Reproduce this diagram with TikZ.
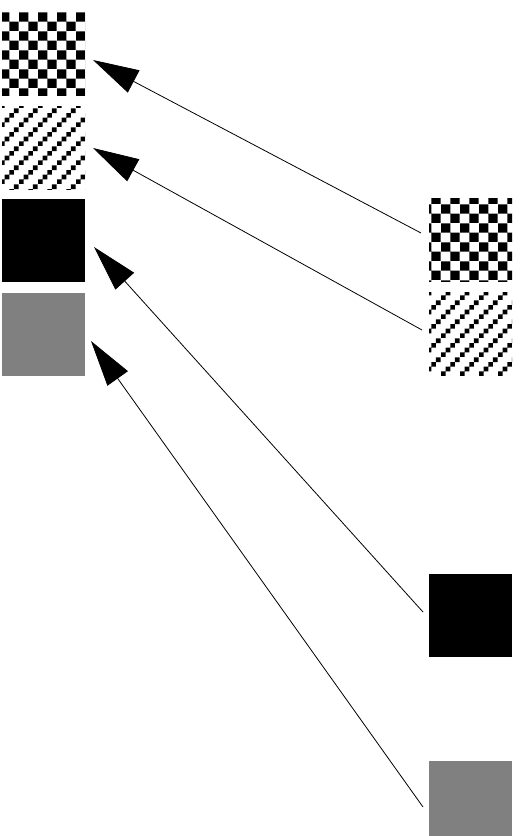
\documentclass[tikz,border=0pt]{standalone}
\usetikzlibrary{positioning,calc,arrows.meta,patterns.meta}

\pgfdeclarepattern{
  name=chkboard,
  type=uncolored,
  bottom left={\pgfpointorigin},
  top right={\pgfpoint{19.2pt}{19.2pt}},
  tile size={\pgfpoint{19.2pt}{19.2pt}},
  code={
    \pgfpathrectangle{\pgfpoint{0pt}{9.6pt}}{\pgfpoint{9.6pt}{9.6pt}}
    \pgfpathrectangle{\pgfpoint{9.6pt}{0pt}}{\pgfpoint{9.6pt}{9.6pt}}
    \pgfusepath{fill}
  }
}
\pgfdeclarepattern{
  name=stairs,
  type=uncolored,
  bottom left={\pgfpointorigin},
  top right={\pgfpoint{19.2pt}{19.2pt}},
  tile size={\pgfpoint{19.2pt}{19.2pt}},
  code={
    \pgfpathrectangle{\pgfpoint{0pt}{0pt}}{\pgfpoint{4.8pt}{4.8pt}}
    \pgfpathrectangle{\pgfpoint{4.8pt}{4.8pt}}{\pgfpoint{4.8pt}{4.8pt}}
    \pgfpathrectangle{\pgfpoint{9.6pt}{9.6pt}}{\pgfpoint{4.8pt}{4.8pt}}
    \pgfpathrectangle{\pgfpoint{14.4pt}{14.4pt}}{\pgfpoint{4.8pt}{4.8pt}}
    \pgfusepath{fill}
  }
}

\begin{document}
\begin{tikzpicture}[
      x=1pt,y=-1pt,
      sq/.style={inner sep=0pt,outer sep=0pt,minimum size=83pt},
      chk/.style={sq,pattern=chkboard},
      stair/.style={sq,pattern=stairs},
      conn/.style={draw,line width=0.8pt},
      >={Triangle[length=46pt,width=25pt]},
    ]
    \useasboundingbox (0,0) rectangle (520,836);
    \clip (0,0) rectangle (520,836);

    \node[chk] (lchk) at (43.5,53.5) {};
    \node[stair, below=11pt of lchk] (lstair) {};
    \node[sq,fill=black, below=10pt of lstair] (lblk) {};
    \node[sq,fill=gray, below=11pt of lblk] (lgry) {};

    \node[chk] (rchk) at (470.5,239.5) {};
    \node[stair, below=11pt of rchk] (rstair) {};
    \node[sq,fill=black] (rblk) at (470.5,615.5) {};
    \node[sq,fill=gray, below=104pt of rblk] (rgry) {};

    % ligações da direita para a esquerda
    \draw[conn,->] ($(rchk.west)+(-8,-6.5)$) -- ($(lchk.east)+(8,6.5)$);
    \draw[conn,->] ($(rstair.west)+(-7,-3.5)$) -- ($(lstair.east)+(8,0.5)$);
    \draw[conn,->] ($(rblk.west)+(-6,-3.5)$) -- ($(lblk.east)+(9,6.5)$);
    \draw[conn,->] ($(rgry.west)+(-6,4.5)$) -- ($(lgry.east)+(6,6.5)$);
  \end{tikzpicture}
\end{document}
